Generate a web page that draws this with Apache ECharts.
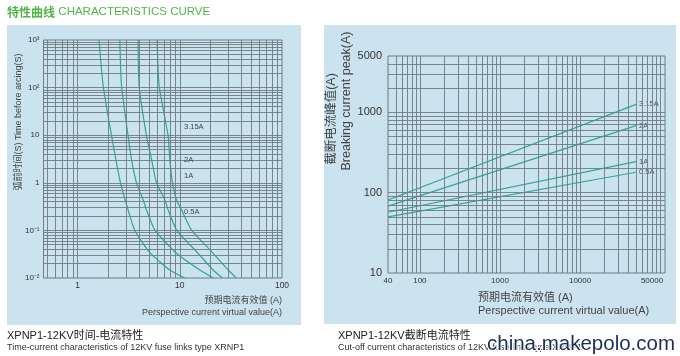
<!DOCTYPE html>
<html><head><meta charset="utf-8">
<script src="https://cdn.jsdelivr.net/npm/echarts@6/dist/echarts.min.js"></script>
<style>html,body{margin:0;padding:0;background:#fff}#c{width:680px;height:356px}</style>
</head><body><div id="c"></div>
<script>
// ---------- data: time-current chart (left) ----------
const tcNames = ['0.5A', '1A', '2A', '3.15A'];
const tc05  = [[1.62,1000],[1.78,110],[2.15,9.7],[2.63,1],[3.12,0.27],[3.63,0.1],[5.1,0.034],[8.0,0.0147],[11.2,0.01]];
const tc1   = [[2.59,1000],[2.69,110],[3.12,9.7],[3.37,3.1],[3.77,1],[4.38,0.44],[4.72,0.27],[5.7,0.103],[9.28,0.033],[15.7,0.0147],[21.2,0.01]];
const tc2   = [[3.91,1000],[4.0,110],[4.72,9.7],[5.29,3.1],[5.92,1],[7.13,0.44],[7.69,0.27],[9.28,0.103],[15.1,0.033],[21.2,0.0147],[26.1,0.01]];
const tc315 = [[6.0,1000],[6.28,110],[7.69,9.7],[7.98,3.1],[8.48,1],[9.28,0.44],[10.4,0.27],[13.0,0.103],[21.2,0.033],[29.7,0.0147],[35.8,0.01]];
const tcXTicks  = [1, 10, 100];
const tcXLabels = ['1', '10', '100'];
const tcYTicks  = [0.01, 0.1, 1, 10, 100, 1000];
const tcYLabels = ['10⁻²', '10⁻¹', '1', '10', '10²', '10³'];
const tcLabelTexts = ['3.15A', '2A', '1A', '0.5A'];

// ---------- data: cut-off current chart (right) ----------
const coNames = ['3.15A', '2A', '1A', '0.5A'];
const co315 = [[40,81],[50000,1250]];
const co2   = [[40,68],[50000,680]];
const co1   = [[40,57],[50000,243]];
const co05  = [[40,50],[50000,179]];
const coXTicks  = [40, 100, 1000, 10000, 50000];
const coXLabels = ['40', '100', '1000', '10000', '50000'];
const coYTicks  = [10, 100, 1000, 5000];
const coYLabels = ['10', '100', '1000', '5000'];

// ---------- helpers ----------
function logGridValues(min, max) {
  const out = [];
  for (let d = Math.floor(Math.log10(min)); d <= Math.ceil(Math.log10(max)); d++) {
    for (let k = 1; k <= 9; k++) {
      const v = +(k * Math.pow(10, d)).toPrecision(6);
      if (v > min * 1.0001 && v < max * 0.9999) out.push(v);
    }
  }
  return out;
}
function labelFmt(ticks, labels, richKey) {
  return function (v) {
    for (let i = 0; i < ticks.length; i++) {
      if (Math.abs(Math.log10(ticks[i]) - Math.log10(v)) < 1e-4) {
        if (richKey && i === ticks.length - 1) return '{' + richKey + '|' + labels[i] + '}';
        return labels[i];
      }
    }
    return '';
  };
}

const GRID_C = '#6f7c83';
const CURVE_C = '#2ea892';
const PANEL_C = '#cae3ee';

const tcX = [0.464, 100], tcY = [0.01, 1000];
const coX = [40, 115000], coY = [10, 5000];

function gridLineSeries(xi, xr, yr) {
  const data = [];
  logGridValues(xr[0], xr[1]).forEach(v => data.push({ xAxis: v }));
  logGridValues(yr[0], yr[1]).forEach(v => data.push({ yAxis: v }));
  return {
    type: 'line', xAxisIndex: xi, yAxisIndex: xi, data: [], z: 1, silent: true,
    markLine: {
      silent: true, symbol: ['none', 'none'], animation: false,
      label: { show: false }, emphasis: { disabled: true },
      lineStyle: { color: GRID_C, width: 1, type: 'solid', opacity: 0.9 },
      data: data
    }
  };
}

const chart = echarts.init(document.getElementById('c'), null, { renderer: 'canvas' });

const axisLabelBase = { color: '#333', fontFamily: 'Liberation Sans, Arial, sans-serif' };
function curve(name, data, xi, extra) {
  return Object.assign({
    name: name, type: 'line', data: data, xAxisIndex: xi, yAxisIndex: xi,
    showSymbol: false, symbol: 'none', z: 3, silent: true,
    lineStyle: { color: CURVE_C, width: 1.2 }, itemStyle: { color: CURVE_C }
  }, extra || {});
}

const txt = (x, y, text, size, opts) => Object.assign({
  type: 'text', x: x, y: y, z: 100,
  style: Object.assign({ text: text, fontSize: size, fill: '#333',
    fontFamily: 'Liberation Sans, Arial, Noto Sans CJK SC, sans-serif', textVerticalAlign: 'middle' }, (opts && opts.style) || {})
}, (opts && opts.el) || {});

const option = {
  animation: false,
  backgroundColor: '#ffffff',
  graphic: [
    { type: 'rect', z: -100, shape: { x: 7, y: 25, width: 294, height: 300 }, style: { fill: PANEL_C } },
    { type: 'rect', z: -100, shape: { x: 324, y: 25, width: 352, height: 299 }, style: { fill: PANEL_C } },
    { type: 'text', x: 7, y: 12, z: 100, style: { text: '{c|特性曲线} {e|CHARACTERISTICS CURVE}', textVerticalAlign: 'middle',
      rich: { c: { fontSize: 12, fill: '#4fb64a', fontFamily: 'Noto Sans CJK SC', fontWeight: 'bold' },
              e: { fontSize: 11.5, fill: '#4fb64a', fontFamily: 'Liberation Sans, Arial' } } } },
    // left chart axis names
    txt(19, 122, '弧前时间(S) Time before arcing(S)', 9, { style: { textAlign: 'center', fill: '#444' }, el: { rotation: Math.PI / 2 } }),
    txt(282, 301, '预期电流有效值 (A)', 9, { style: { textAlign: 'right', fill: '#444' } }),
    txt(282, 313, 'Perspective current virtual value(A)', 9, { style: { textAlign: 'right', fill: '#444' } }),
    // left curve labels
    txt(184, 127, tcLabelTexts[0], 7.5, { style: { fill: '#444' } }),
    txt(184, 160, tcLabelTexts[1], 7.5, { style: { fill: '#444' } }),
    txt(184, 176, tcLabelTexts[2], 7.5, { style: { fill: '#444' } }),
    txt(184, 212, tcLabelTexts[3], 7.5, { style: { fill: '#444' } }),
    // right chart axis names
    txt(332, 119, '截断电流峰值(A)', 12.5, { style: { textAlign: 'center', fill: '#444' }, el: { rotation: Math.PI / 2 } }),
    txt(347, 101, 'Breaking current peak(A)', 12.5, { style: { textAlign: 'center', fill: '#444' }, el: { rotation: Math.PI / 2 } }),
    txt(478, 298, '预期电流有效值 (A)', 11, { style: { fill: '#444' } }),
    txt(478, 311, 'Perspective current virtual value(A)', 11, { style: { fill: '#444' } }),
    // captions
    txt(7, 336, 'XPNP1-12KV时间-电流特性', 11, { style: { fill: '#222' } }),
    txt(7, 348, 'Time-current characteristics of 12KV fuse links type XRNP1', 9, { style: { fill: '#333' } }),
    txt(338, 336, 'XPNP1-12KV截断电流特性', 11, { style: { fill: '#222' } }),
    txt(338, 348, 'Cut-off current characteristics of 12KV fuse links type XRNP1', 9, { style: { fill: '#333' } }),
    // watermark
    txt(487, 344, 'china.makepolo.com', 20.5, { style: { fill: '#1e2f5c', stroke: '#ffffff', lineWidth: 2 }, el: { z: 120 } })
  ],
  grid: [
    { left: 43.5, top: 40, width: 238.5, height: 238, show: true, borderColor: GRID_C, borderWidth: 1,
      backgroundColor: 'transparent', containLabel: false, outerBoundsMode: 'none' },
    { left: 388, top: 56, width: 277, height: 217, show: true, borderColor: GRID_C, borderWidth: 1,
      backgroundColor: 'transparent', containLabel: false, outerBoundsMode: 'none' }
  ],
  xAxis: [
    { type: 'log', logBase: 10, gridIndex: 0, min: tcX[0], max: tcX[1],
      axisLine: { show: false }, axisTick: { show: false }, splitLine: { show: false },
      axisLabel: Object.assign({}, axisLabelBase, { fontSize: 8.5, margin: 3, customValues: tcXTicks,
        formatter: labelFmt(tcXTicks, tcXLabels), showMinLabel: true, showMaxLabel: true }) },
    { type: 'log', logBase: 10, gridIndex: 1, min: coX[0], max: coX[1],
      axisLine: { show: false }, axisTick: { show: false }, splitLine: { show: false },
      axisLabel: Object.assign({}, axisLabelBase, { fontSize: 8, margin: 4, customValues: coXTicks,
        formatter: labelFmt(coXTicks, coXLabels, 's'), showMinLabel: true, showMaxLabel: true,
        rich: { s: { fontSize: 8, color: '#333', padding: [0, 0, 0, 32] } } }) }
  ],
  yAxis: [
    { type: 'log', logBase: 10, gridIndex: 0, min: tcY[0], max: tcY[1],
      axisLine: { show: false }, axisTick: { show: false }, splitLine: { show: false },
      axisLabel: Object.assign({}, axisLabelBase, { fontSize: 8, margin: 4, customValues: tcYTicks,
        formatter: labelFmt(tcYTicks, tcYLabels), showMinLabel: true, showMaxLabel: true }) },
    { type: 'log', logBase: 10, gridIndex: 1, min: coY[0], max: coY[1],
      axisLine: { show: false }, axisTick: { show: false }, splitLine: { show: false },
      axisLabel: Object.assign({}, axisLabelBase, { fontSize: 11, margin: 6, customValues: coYTicks,
        formatter: labelFmt(coYTicks, coYLabels), showMinLabel: true, showMaxLabel: true }) }
  ],
  series: [
    gridLineSeries(0, tcX, tcY),
    gridLineSeries(1, coX, coY),
    curve(tcNames[0], tc05, 0, { smooth: 0.2 }),
    curve(tcNames[1], tc1, 0, { smooth: 0.2 }),
    curve(tcNames[2], tc2, 0, { smooth: 0.2 }),
    curve(tcNames[3], tc315, 0, { smooth: 0.2 }),
    curve(coNames[0], co315, 1, { endLabel: { show: true, formatter: '{a}', fontSize: 7.5, color: '#555', distance: 3 } }),
    curve(coNames[1], co2, 1, { endLabel: { show: true, formatter: '{a}', fontSize: 7.5, color: '#555', distance: 3 } }),
    curve(coNames[2], co1, 1, { endLabel: { show: true, formatter: '{a}', fontSize: 7.5, color: '#555', distance: 3 } }),
    curve(coNames[3], co05, 1, { endLabel: { show: true, formatter: '{a}', fontSize: 7.5, color: '#555', distance: 3 } })
  ]
};
chart.setOption(option);
</script></body></html>
